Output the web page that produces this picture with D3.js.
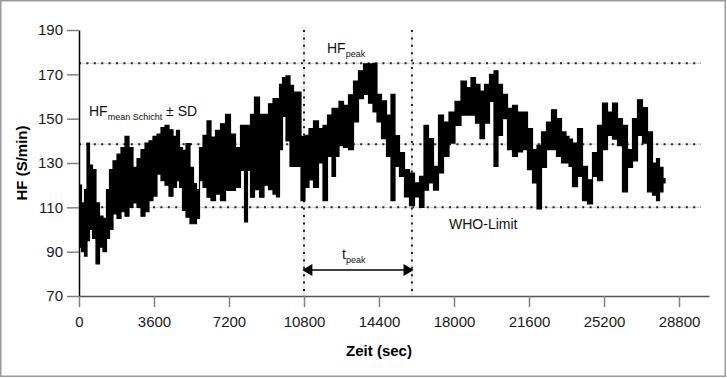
<!DOCTYPE html>
<html>
<head>
<meta charset="utf-8">
<script src="https://cdn.jsdelivr.net/npm/d3@7"></script>
<style>
  body { margin: 0; background: #fff; }
  svg { display: block; font-family: "Liberation Sans", Arial, sans-serif; }
</style>
</head>
<body>
<div id="chart"></div>
<script>
const sampleTime = [48, 192, 336, 432, 576, 720, 912, 1056, 1248, 1392, 1536, 1728, 1920, 2112, 2304, 2496, 2688, 2880, 3072, 3264, 3456, 3648, 3840, 4032, 4224, 4416, 4608,
  4752, 4896, 5040, 5232, 5424, 5568, 5712, 5856, 6048, 6240, 6432, 6672, 6912, 7152, 7392, 7632, 7872, 8016, 8160, 8304, 8544, 8784, 8976, 9216, 9408,
  9552, 9696, 9840, 10032, 10224, 10368, 10560, 10752, 10944, 11136, 11376, 11616, 11808, 12048, 12240, 12384, 12576, 12816, 13056, 13296, 13536, 13776, 14016,
  14208, 14400, 14640, 14880, 15072, 15264, 15504, 15744, 15984, 16224, 16464, 16656, 16896, 17136, 17376, 17616, 17904, 18192, 18480, 18720,
  18912, 19152, 19344, 19584, 19824, 20016, 20208, 20448, 20688, 20928, 21168, 21408, 21648, 21888, 22080, 22320, 22560, 22800, 23040, 23280, 23472,
  23568, 23808, 24048, 24288, 24528, 24768, 25008, 25248, 25488, 25728, 25968, 26208, 26448, 26688, 26928, 27168, 27408, 27648, 27792, 27936, 28128];

const hrLow = [92, 90, 88, 95, 100, 96, 84.5, 92, 90, 96, 100, 107, 105, 108, 106, 110, 112, 110, 106, 108, 113, 115, 125, 122, 120, 115, 119,
  122, 119, 108.6, 105.6, 102.6, 102.6, 105, 122, 119, 114.6, 113, 116, 113, 117.6, 117.6, 119, 126.7, 103.4, 126.7, 114.6, 118, 114.6, 120, 118, 116,
  114.7, 136, 151, 140, 128.5, 128.5, 128.5, 113, 119, 122.4, 119, 130, 113, 133, 124, 133, 137.8, 137, 136, 148.5, 159, 161, 157,
  153, 148.5, 141, 133, 113, 128.5, 124, 114.7, 110.8, 114.7, 110, 117.8, 121, 117.8, 125.5, 133, 139, 147, 151.6, 151.6,
  151.6, 148, 141, 148, 157.8, 128.5, 142.4, 150, 136, 133, 135, 136, 127, 121, 109.3, 128, 136, 136, 133, 130, 130,
  128.5, 119.3, 124, 113, 111.6, 124, 122, 136, 142.4, 140.8, 137.8, 117, 128, 131, 142.4, 139, 117, 115.5, 113, 117, 121];

const hrHigh = [120, 112, 118, 139, 129, 127, 112, 106, 105, 118, 127, 131, 134, 137, 142, 137, 128, 132, 136, 139, 140, 142, 143, 146, 147, 145, 142,
  144.7, 137, 135.7, 138.7, 128, 120.7, 118, 137, 142.5, 149, 141.7, 144.7, 147.7, 152, 143, 137, 147, 147, 147, 152, 159.7, 152, 152, 156.7, 159,
  159, 165.5, 168.5, 169.3, 165, 162, 162, 142, 142.5, 145.5, 149, 145.5, 147, 151.6, 154.7, 154.7, 157.8, 156, 160.8, 167, 171.6, 174.7, 174.7,
  175, 161, 158, 151.6, 161, 142.4, 134.7, 127, 125.5, 121, 124, 147, 141, 128.5, 151.6, 148.5, 153, 157.8, 167, 164,
  168.5, 165.5, 162.4, 165.5, 170, 171.6, 165.5, 161, 154.7, 156, 153, 153, 145.5, 136, 138, 144, 148.5, 154, 150, 144, 142,
  140.8, 139, 145.5, 128.5, 122.4, 134.7, 147, 157, 153, 157, 150, 147, 136, 150, 158.5, 155, 144, 130, 132, 128, 123];

const xTicks = [0, 3600, 7200, 10800, 14400, 18000, 21600, 25200, 28800];
const yTicks = [70, 90, 110, 130, 150, 170, 190];

const hrPeak = 175;       // HF peak level
const hrMean = 138.5;     // HF mean Schicht
const whoLimit = 110;     // WHO-Limit
const peakStart = 10800;  // t peak window
const peakEnd = 15980;
const lineEnd = 29850;    // where the dotted levels stop

const width = 727;
const height = 378;

const svg = d3.select("#chart")
  .append("svg")
  .attr("width", width)
  .attr("height", height);

// frame round the figure
svg.append("rect")
  .attr("x", 0.75)
  .attr("y", 0.75)
  .attr("width", 724.5)
  .attr("height", 375.5)
  .attr("fill", "none")
  .attr("stroke", "#9a9a9a")
  .attr("stroke-width", 1.5);

const x = d3.scaleLinear().domain([0, 30240]).range([79, 709]);
const y = d3.scaleLinear().domain([70, 190]).range([296, 30]);

const data = sampleTime.map((t, i) => ({ t: t, lo: hrLow[i], hi: hrHigh[i] }));

// dotted reference lines: faint solid line plus dark dots
function dotted(g, x1, y1, x2, y2) {
  g.append("line")
    .attr("x1", x1).attr("y1", y1).attr("x2", x2).attr("y2", y2)
    .attr("stroke", "#d0d0d0")
    .attr("stroke-width", 1);
  g.append("line")
    .attr("x1", x1).attr("y1", y1).attr("x2", x2).attr("y2", y2)
    .attr("stroke", "#222")
    .attr("stroke-width", 2)
    .attr("stroke-dasharray", "2 5.4");
}

const refs = svg.append("g").attr("class", "refs");
[hrPeak, hrMean, whoLimit].forEach((v) => {
  dotted(refs, x(0), y(v), x(lineEnd), y(v));
});
[peakStart, peakEnd].forEach((t) => {
  dotted(refs, x(t), y(190), x(t), y(70));
});

// the heart rate band
const area = d3.area()
  .x((d) => x(d.t))
  .y0((d) => y(d.lo))
  .y1((d) => y(d.hi))
  .curve(d3.curveStep);

svg.append("path")
  .datum(data)
  .attr("d", area)
  .attr("fill", "#000")
  .attr("stroke", "#000")
  .attr("stroke-width", 1.2)
  .attr("stroke-linejoin", "miter");

// axes
const yAxis = svg.append("g")
  .attr("class", "y-axis")
  .attr("transform", `translate(${x(0)},0)`)
  .call(d3.axisLeft(y).tickValues(yTicks).tickSize(12).tickSizeOuter(0).tickPadding(4));

const xAxis = svg.append("g")
  .attr("class", "x-axis")
  .attr("transform", `translate(0,${y(70)})`)
  .call(d3.axisBottom(x).tickValues(xTicks).tickSize(11).tickSizeOuter(0).tickPadding(9).tickFormat(d3.format("d")));

xAxis.select(".domain").attr("stroke", "#555").attr("stroke-width", 1.5);
yAxis.select(".domain").attr("stroke", "#000").attr("stroke-width", 1.5);
svg.selectAll(".tick line").attr("stroke", "#808080").attr("stroke-width", 1.5);
svg.selectAll(".tick text")
  .attr("fill", "#1a1a1a")
  .style("font-size", "15px")
  .style("font-family", "'Liberation Sans', Arial, sans-serif");

// axis titles
svg.append("text")
  .attr("transform", `translate(27, ${y(130)}) rotate(-90)`)
  .attr("text-anchor", "middle")
  .style("font-size", "15px")
  .style("font-weight", "bold")
  .text("HF (S/min)");

svg.append("text")
  .attr("x", 379)
  .attr("y", 356)
  .attr("text-anchor", "middle")
  .style("font-size", "15px")
  .style("font-weight", "bold")
  .text("Zeit (sec)");

// annotations
function subLabel(px, py, main, sub, tail) {
  const t = svg.append("text")
    .attr("x", px)
    .attr("y", py)
    .attr("fill", "#111")
    .style("font-size", "14px");
  t.append("tspan").text(main);
  t.append("tspan").attr("dy", 4).style("font-size", "9px").text(sub);
  if (tail) t.append("tspan").attr("dy", -4).text(tail);
}

subLabel(89, 116, "HF", "mean Schicht", " ± SD");
subLabel(327, 53, "HF", "peak");
subLabel(342, 259, "t", "peak");

svg.append("text")
  .attr("x", 449)
  .attr("y", 229)
  .attr("fill", "#111")
  .style("font-size", "14px")
  .text("WHO-Limit");

// t peak arrow
const arrowY = 270;
svg.append("line")
  .attr("x1", x(peakStart) + 8)
  .attr("x2", x(peakEnd) - 8)
  .attr("y1", arrowY)
  .attr("y2", arrowY)
  .attr("stroke", "#000")
  .attr("stroke-width", 1.5);

const head = d3.symbol().type(d3.symbolTriangle).size(60);
svg.append("path")
  .attr("d", head())
  .attr("transform", `translate(${x(peakStart) + 5},${arrowY}) rotate(-90)`)
  .attr("fill", "#000");
svg.append("path")
  .attr("d", head())
  .attr("transform", `translate(${x(peakEnd) - 5},${arrowY}) rotate(90)`)
  .attr("fill", "#000");
</script>
</body>
</html>
